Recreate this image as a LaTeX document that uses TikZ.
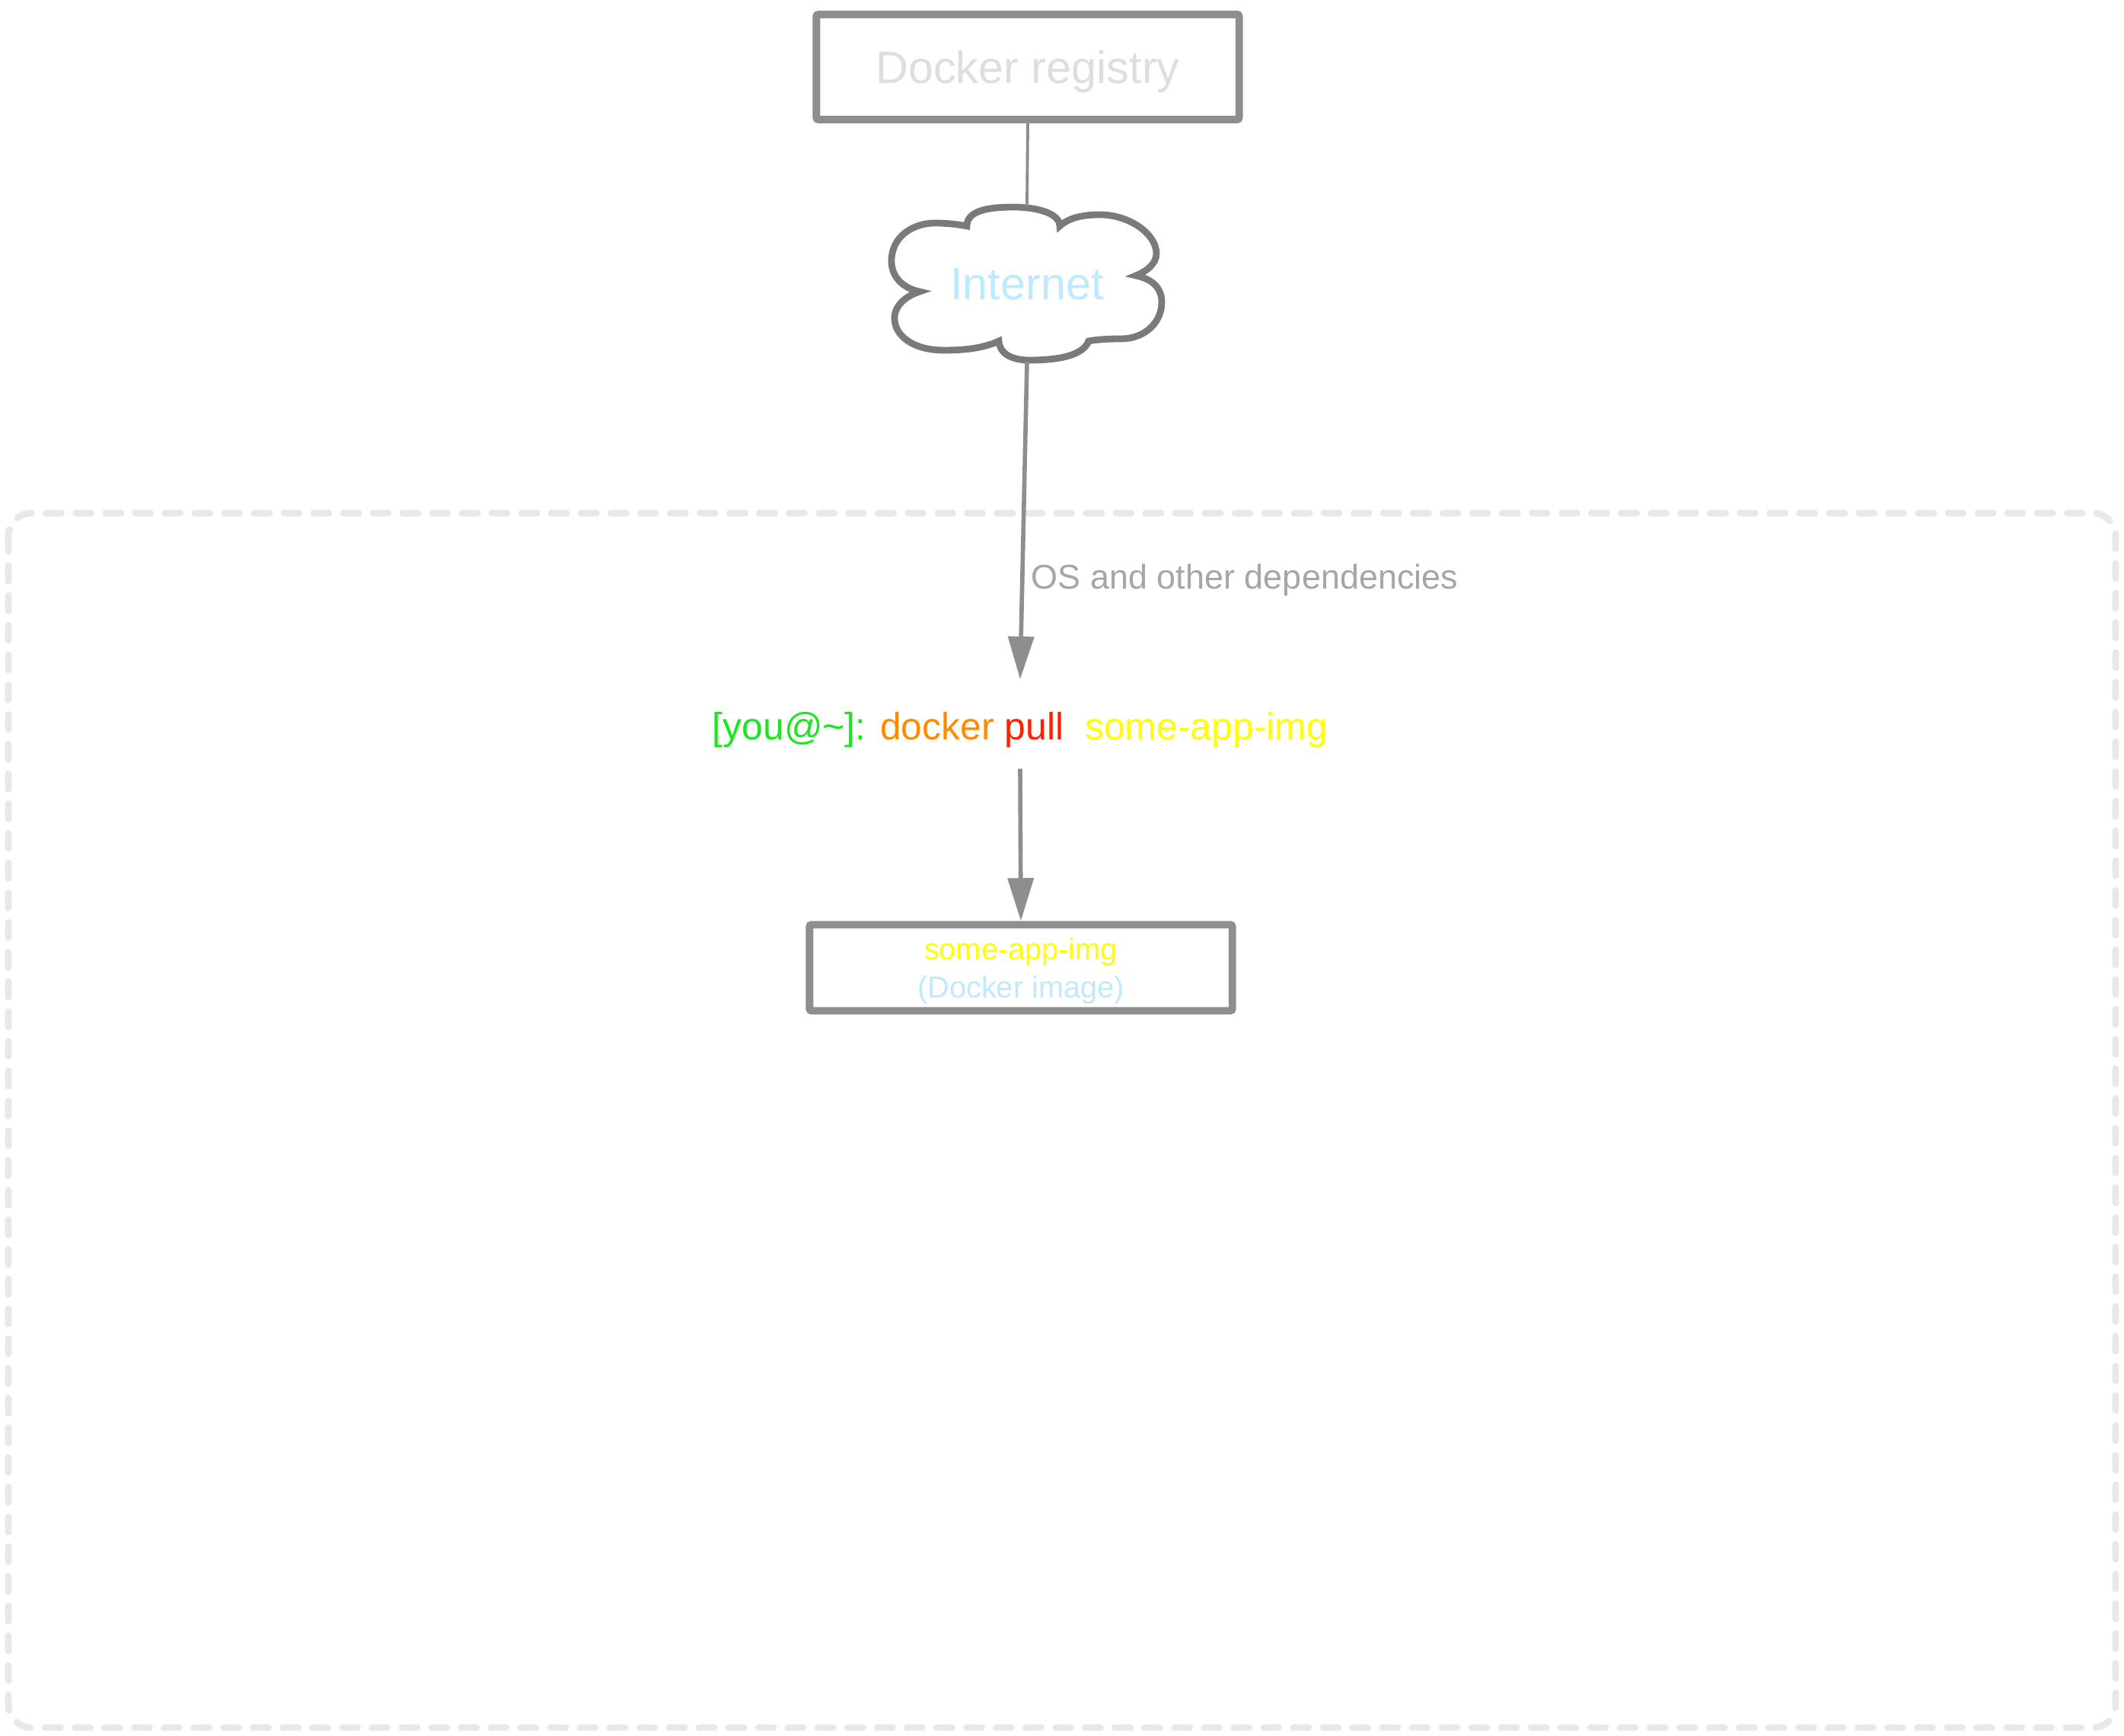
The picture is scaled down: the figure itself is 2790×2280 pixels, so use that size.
\documentclass[tikz,border=0pt]{standalone}
\usepackage{fontspec}
\setmainfont{Liberation Sans}
\usetikzlibrary{arrows.meta}
\definecolor{boxgray}{HTML}{8E8E8E}
\definecolor{cloudgray}{HTML}{7A7A7A}
\definecolor{regtext}{HTML}{DEDEDE}
\definecolor{lblue}{HTML}{BEEAFF}
\definecolor{lblgray}{HTML}{A6A6A6}
\definecolor{framegray}{HTML}{E8E8E8}
\definecolor{cgreen}{HTML}{1EE61E}
\definecolor{corange}{HTML}{FF8C00}
\definecolor{cred}{HTML}{FF2000}
\definecolor{cyellow}{HTML}{FFFF00}
\tikzset{
  sqbox/.style={draw=boxgray, line width=2.8pt, rounded corners=0.8pt, inner sep=0pt, align=center},
  cloudline/.style={draw=cloudgray, line width=2.5pt, line join=miter},
  conn/.style={draw=boxgray, line width=1.6pt, -{Triangle[length=16pt,width=9.5pt]}},
  thinconn/.style={draw=boxgray, line width=1.1pt},
  frame/.style={draw=framegray, line width=2.5pt, line cap=round, dash pattern=on 5.7pt off 5.4pt, rounded corners=0.3cm}
}
\begin{document}
\begin{tikzpicture}[x=0.01cm,y=-0.01cm]
\useasboundingbox (0,0) rectangle (2790,2280);
\draw[frame] (11,674) rectangle (2779,2269);
\node[sqbox, minimum width=5.55cm, minimum height=1.38cm, text depth=0pt, text=regtext, font=\fontsize{16.9}{20}\selectfont] (reg) at (1350,88) {Docker registry};
% cloud outline
\draw[cloudline]
  (1270,297) .. controls (1270,276) and (1300,272) .. (1331,272)
  .. controls (1362,272) and (1392,280) .. (1392,297)
  .. controls (1405,285) and (1425,282) .. (1445,282)
  .. controls (1483,282) and (1519,307) .. (1519,333)
  .. controls (1519,346) and (1507,356) .. (1492,362)
  .. controls (1516,367) and (1526,380) .. (1526,397)
  .. controls (1526,424) and (1503,445) .. (1473,445)
  .. controls (1455,445) and (1440,446) .. (1430,448)
  .. controls (1422,468) and (1388,473) .. (1352,473)
  .. controls (1328,473) and (1313,464) .. (1312,448)
  .. controls (1290,458) and (1265,460) .. (1240,460)
  .. controls (1198,460) and (1175,440) .. (1175,418)
  .. controls (1175,400) and (1192,388) .. (1208,383)
  .. controls (1184,378) and (1171,362) .. (1171,343)
  .. controls (1171,310) and (1200,293) .. (1228,293)
  .. controls (1245,293) and (1260,295) .. (1270,297) -- cycle;
\node[inner sep=0pt, minimum width=3.50cm, minimum height=2.03cm, text=lblue, font=\fontsize{16.9}{20}\selectfont] (net) at (1349,373) {Internet};
\node[inner sep=0pt, minimum height=1.28cm, font=\fontsize{14.2}{17}\selectfont] (cmd) at (1340,959) {\textcolor{cgreen}{[you@\char"007E]:} \textcolor{corange}{docker} \textcolor{cred}{pull}\hspace{0.55em}\textcolor{cyellow}{some-app-img}};
\node[anchor=west, inner sep=0pt, text=lblgray, font=\fontsize{12.8}{15}\selectfont] (lbl) at (1354,762) {OS and other dependencies};
\node[sqbox, minimum width=5.55cm, minimum height=1.13cm, text depth=0pt, font=\fontsize{11.3}{14.2}\selectfont] (img) at (1341,1271) {\textcolor{cyellow}{some-app-img}\\\textcolor{lblue}{(Docker image)}};
\draw[thinconn] (reg.south) -- (net.north);
\draw[conn] (net.south) -- ([yshift=0.02cm]cmd.north);
\draw[conn] ([yshift=0.14cm]cmd.south) -- (img.north);
\end{tikzpicture}
\end{document}
